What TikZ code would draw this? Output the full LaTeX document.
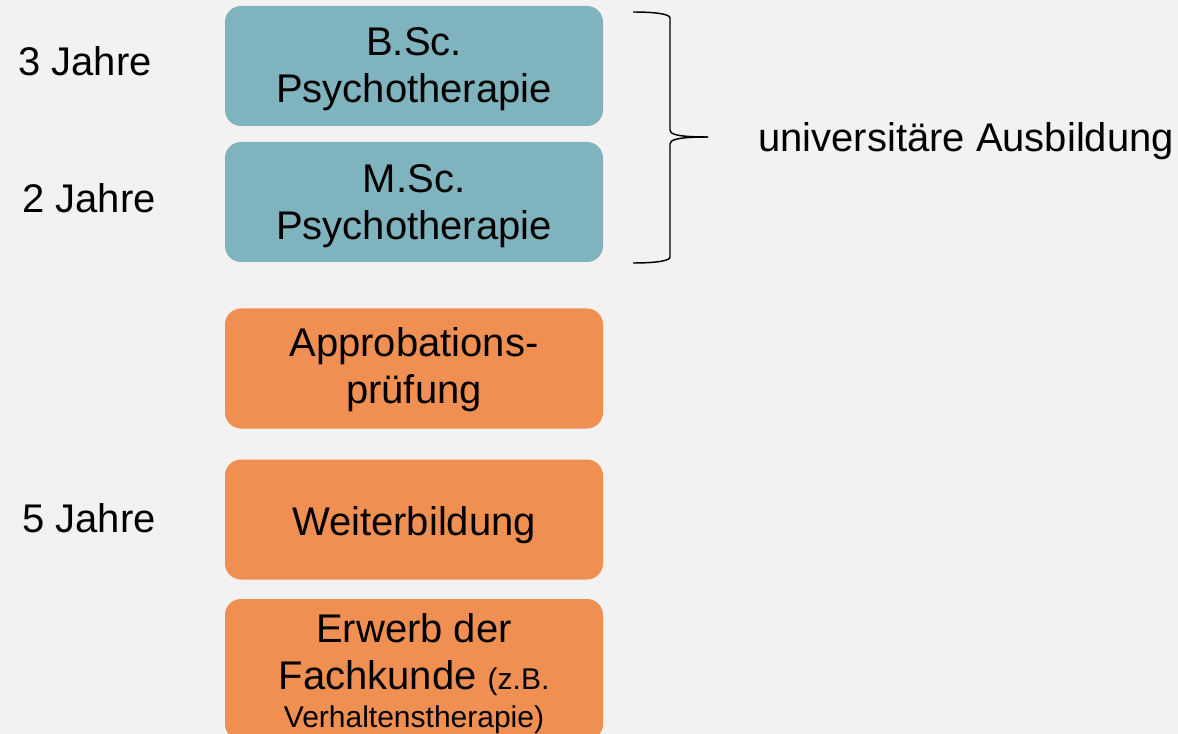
\documentclass[tikz,border=0pt]{standalone}
\usepackage{fontspec}
\setmainfont{Liberation Sans}
\definecolor{bgcol}{HTML}{F2F2F2}
\definecolor{tealbox}{HTML}{7FB3BE}
\definecolor{orangebox}{HTML}{F08F52}
\begin{document}
\begin{tikzpicture}[x=0.75pt,y=-0.75pt,
  box/.style={rounded corners=12pt, minimum width=283.5pt, minimum height=90pt, inner sep=0pt},
  tbox/.style={box, fill=tealbox},
  obox/.style={box, fill=orangebox},
  txt/.style={inner sep=0pt, align=center, font=\fontsize{30}{35.25}\selectfont, anchor=base},
  lbl/.style={inner sep=0pt, font=\fontsize{30}{35.25}\selectfont, anchor=base west}
]
\fill[bgcol] (0,0) rectangle (1178,734);
\useasboundingbox (0,0) rectangle (1178,734);

\node[tbox] (b1) at (414,66) {};
\node[tbox] (b2) at (414,202) {};
\node[obox] (b3) at (414,368.5) {};
\node[obox] (b4) at (414,519.5) {};
\node[obox, minimum height=105.75pt] (b5) at (414,669.5) {};

% anchor=base is the baseline of the last line
\node[txt] (t1) at (414,103) {B.Sc.\\Psychotherapie};
\node[txt] (t2) at (414,240) {M.Sc.\\Psychotherapie};
\node[txt] (t3) at (414,403) {Approbations-\\prüfung};
\node[txt] (t4) at (414,535) {Weiterbildung};
\node[txt] (t5) at (414,727) {Erwerb der\\Fachkunde {\fontsize{22.5}{28.5}\selectfont(z.B.}\\[-7pt]{\fontsize{22.5}{28.5}\selectfont Verhaltenstherapie)}};

\node[lbl] (l1) at (18,76) {3 Jahre};
\node[lbl] (l2) at (22,213) {2 Jahre};
\node[lbl] (l3) at (22,532) {5 Jahre};
\node[lbl] (l4) at (758,152) {universitäre Ausbildung};

\coordinate (bt) at (633,12);
\coordinate (bb) at (633,263);
\coordinate (tip) at (708,137);
\draw[line width=1.1pt] (bt) .. controls (655,12) and (670,14) .. (670,18) -- (670,130)
  .. controls (670,134) and (676,137) .. (tip);
\draw[line width=1.1pt] (bb) .. controls (655,263) and (670,261) .. (670,257) -- (670,144)
  .. controls (670,140) and (676,137) .. (tip);
\end{tikzpicture}
\end{document}
